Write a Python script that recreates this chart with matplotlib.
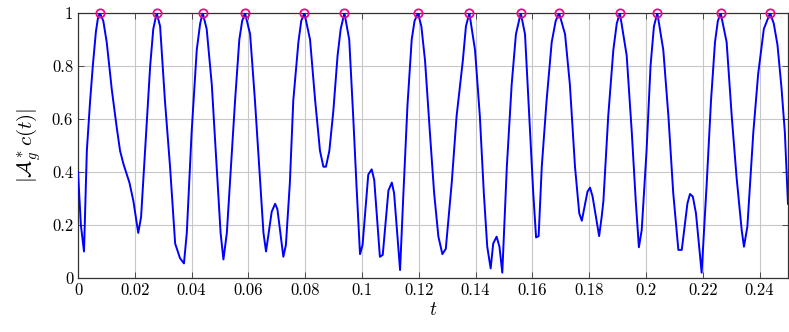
import matplotlib
matplotlib.use('Agg')
import matplotlib.pyplot as plt
from matplotlib.ticker import FuncFormatter

plt.rcParams['font.family'] = 'cmr10'
plt.rcParams['mathtext.fontset'] = 'cm'
plt.rcParams['axes.formatter.use_mathtext'] = True

# traced samples of |A*_g c(t)|
t = [0.0000, 0.0010, 0.0021, 0.0031, 0.0042, 0.0052, 0.0063, 0.0070, 0.0077,
     0.0089, 0.0101, 0.0119, 0.0136, 0.0148, 0.0160, 0.0181, 0.0195, 0.0212,
     0.0222, 0.0236, 0.0254, 0.0265, 0.0277, 0.0289, 0.0306, 0.0324, 0.0342,
     0.0359, 0.0373, 0.0383, 0.0400, 0.0418, 0.0430, 0.0439, 0.0453, 0.0471,
     0.0488, 0.0502, 0.0512, 0.0524, 0.0535, 0.0553, 0.0568, 0.0578, 0.0588,
     0.0606, 0.0623, 0.0638, 0.0653, 0.0662, 0.0682, 0.0694, 0.0702, 0.0723,
     0.0732, 0.0746, 0.0758, 0.0776, 0.0786, 0.0797, 0.0817, 0.0835, 0.0852,
     0.0864, 0.0873, 0.0885, 0.0899, 0.0914, 0.0925, 0.0938, 0.0955, 0.0969,
     0.0981, 0.0993, 0.1002, 0.1022, 0.1034, 0.1043, 0.1063, 0.1073, 0.1093,
     0.1105, 0.1113, 0.1134, 0.1145, 0.1160, 0.1175, 0.1185, 0.1197, 0.1209,
     0.1222, 0.1239, 0.1254, 0.1269, 0.1283, 0.1295, 0.1316, 0.1333, 0.1355,
     0.1366, 0.1378, 0.1398, 0.1415, 0.1429, 0.1441, 0.1453, 0.1462, 0.1474,
     0.1484, 0.1494, 0.1510, 0.1527, 0.1542, 0.1559, 0.1574, 0.1589, 0.1603,
     0.1613, 0.1622, 0.1633, 0.1650, 0.1668, 0.1682, 0.1694, 0.1715, 0.1732,
     0.1750, 0.1765, 0.1774, 0.1794, 0.1803, 0.1812, 0.1835, 0.1844, 0.1850,
     0.1867, 0.1885, 0.1897, 0.1908, 0.1932, 0.1950, 0.1964, 0.1975, 0.1985,
     0.2002, 0.2016, 0.2028, 0.2040, 0.2061, 0.2079, 0.2096, 0.2114, 0.2126,
     0.2146, 0.2155, 0.2165, 0.2176, 0.2196, 0.2214, 0.2229, 0.2243, 0.2253,
     0.2263, 0.2284, 0.2302, 0.2319, 0.2337, 0.2345, 0.2357, 0.2378, 0.2395,
     0.2415, 0.2437, 0.2450, 0.2463, 0.2477, 0.2489, 0.2500]
amp = [0.40, 0.20, 0.10, 0.48, 0.66, 0.80, 0.93, 0.98, 1.00,
       0.97, 0.89, 0.71, 0.57, 0.48, 0.43, 0.36, 0.29, 0.17,
       0.23, 0.48, 0.80, 0.94, 1.00, 0.95, 0.67, 0.42, 0.13,
       0.075, 0.055, 0.17, 0.55, 0.86, 0.96, 1.00, 0.94, 0.73,
       0.42, 0.17, 0.07, 0.17, 0.36, 0.67, 0.90, 0.97, 1.00,
       0.92, 0.67, 0.42, 0.17, 0.10, 0.25, 0.28, 0.26, 0.08,
       0.125, 0.36, 0.67, 0.89, 0.97, 1.00, 0.90, 0.67, 0.48,
       0.42, 0.42, 0.48, 0.63, 0.84, 0.94, 1.00, 0.90, 0.61,
       0.34, 0.09, 0.125, 0.39, 0.41, 0.37, 0.08, 0.087, 0.33,
       0.36, 0.32, 0.03, 0.30, 0.65, 0.90, 0.97, 1.00, 0.95,
       0.82, 0.55, 0.32, 0.156, 0.09, 0.11, 0.36, 0.61, 0.82,
       0.95, 1.00, 0.86, 0.61, 0.32, 0.118, 0.036, 0.13, 0.156,
       0.118, 0.02, 0.42, 0.73, 0.92, 1.00, 0.92, 0.61, 0.32,
       0.153, 0.158, 0.42, 0.67, 0.89, 0.97, 1.00, 0.92, 0.73,
       0.42, 0.244, 0.216, 0.326, 0.341, 0.307, 0.158, 0.231, 0.29,
       0.61, 0.86, 0.96, 1.00, 0.84, 0.55, 0.29, 0.116, 0.181,
       0.48, 0.80, 0.95, 1.00, 0.86, 0.61, 0.32, 0.106, 0.106,
       0.282, 0.317, 0.307, 0.244, 0.02, 0.36, 0.67, 0.89, 0.97,
       1.00, 0.89, 0.61, 0.38, 0.181, 0.118, 0.194, 0.55, 0.77,
       0.94, 1.00, 0.96, 0.88, 0.72, 0.55, 0.28]

peak_t = [0.0077, 0.0277, 0.0439, 0.0588, 0.0797, 0.0938, 0.1197,
          0.1378, 0.1559, 0.1694, 0.1908, 0.2040, 0.2263, 0.2437]
peak_y = [1.0] * len(peak_t)

xticks = [0, 0.02, 0.04, 0.06, 0.08, 0.1, 0.12, 0.14, 0.16, 0.18, 0.2, 0.22, 0.24]
yticks = [0, 0.2, 0.4, 0.6, 0.8, 1]

fig = plt.figure(figsize=(7.89, 3.32), dpi=100)
ax = fig.add_axes([0.0989, 0.1627, 0.8998, 0.7981])

ax.plot(t, amp, color='#0000ff', lw=1.4, zorder=3)
ax.plot(peak_t, peak_y, 'o', mfc='none', mec='#ea0b8c', ms=6, mew=1.3,
        clip_on=False, zorder=4)

ax.set_xlim(0, 0.25)
ax.set_ylim(0, 1)
ax.set_xticks(xticks)
ax.set_yticks(yticks)
fmt = FuncFormatter(lambda v, p: '%g' % round(v, 4))
ax.xaxis.set_major_formatter(fmt)
ax.yaxis.set_major_formatter(fmt)
ax.tick_params(direction='in', top=True, right=True, length=4, width=0.6,
               labelsize=12, colors='#333333', labelcolor='black')
ax.grid(True, color='#c8c8c8', lw=0.8)
ax.set_axisbelow(True)
for s in ax.spines.values():
    s.set_linewidth(0.9)
    s.set_color('#333333')

ax.set_xlabel(r'$t$', fontsize=14, labelpad=2)
ax.set_ylabel(r'$|\mathcal{A}^*_g c(t)|$', fontsize=15, labelpad=6)

fig.savefig('out.png', dpi=100)
